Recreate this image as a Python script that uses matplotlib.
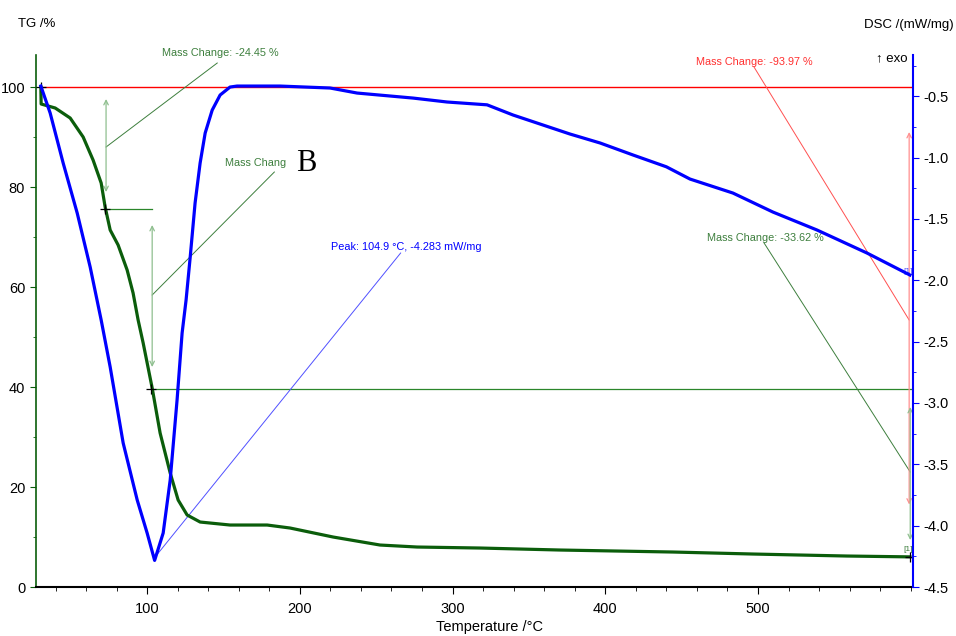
import matplotlib
matplotlib.use("Agg")
import matplotlib.pyplot as plt
from matplotlib.ticker import MultipleLocator

plt.rcParams['font.family'] = ['Liberation Sans', 'DejaVu Sans']

# DSC curve (temperature /°C, mW/mg)
dsc_t = [30.4, 36.5, 45.0, 54.2, 62.7, 69.9, 75.8, 84.3, 93.5, 100.0, 104.9, 110.5,
         115.1, 119.6, 122.9, 125.5, 128.2, 131.4, 134.7, 138.0, 142.6, 147.8, 154.3,
         158.9, 187.1, 219.8, 237.5, 274.2, 296.4, 322.6, 339.6, 376.9, 396.6, 418.2,
         440.0, 455.5, 483.6, 509.8, 538.6, 571.4, 599.5]
dsc_v = [-0.417, -0.637, -1.044, -1.452, -1.892, -2.324, -2.707, -3.326, -3.791, -4.06,
         -4.283, -4.06, -3.628, -2.976, -2.43, -2.161, -1.811, -1.370, -1.044, -0.800,
         -0.613, -0.490, -0.425, -0.417, -0.417, -0.433, -0.474, -0.515, -0.547, -0.570,
         -0.653, -0.808, -0.881, -0.979, -1.075, -1.175, -1.289, -1.444, -1.590, -1.778,
         -1.957]

# TG curve (temperature /°C, %)
tg_t = [30.4, 30.6, 39.8, 49.6, 58.1, 64.6, 69.9, 72.5, 75.8, 81.0, 86.9, 90.8, 94.1,
        97.4, 103.3, 108.5, 115.1, 120.3, 126.2, 134.7, 154.3, 178.6, 193.6, 221.8,
        252.5, 276.8, 318.0, 370.4, 444.4, 496.7, 558.3, 599.5]
tg_v = [100.0, 96.6, 95.8, 93.8, 90.0, 85.4, 80.8, 76.0, 71.4, 68.4, 63.4, 58.8, 53.4,
        48.8, 39.8, 30.8, 22.8, 17.4, 14.4, 13.0, 12.4, 12.4, 11.8, 10.0,
        8.4, 8.0, 7.8, 7.4, 7.0, 6.6, 6.2, 6.03]

step1 = 75.55
step2 = 39.65
final = 6.03

dark_green = '#0b5d0b'
line_green = '#2a862a'
ann_green = '#3d7f3d'
light_green = '#8fbf8f'
light_red = '#ff9090'

fig = plt.figure(figsize=(9.56, 6.36), dpi=100)
ax = fig.add_axes([0.0373, 0.077, 0.9177, 0.8365])
ax2 = ax.twinx()

ax.set_xlim(27, 601.5)
ax.set_ylim(0, 106.4)
ax2.set_ylim(-4.5, -0.164)

ax.plot(tg_t, tg_v, color=dark_green, lw=2.3, zorder=5, solid_joinstyle='round')
ax2.plot(dsc_t, dsc_v, color='#0000ff', lw=2.3, zorder=5, solid_joinstyle='round')

# horizontal reference lines
ax.plot([30.4, 601.5], [100, 100], color='#ff0000', lw=1.0)
ax.plot([103.3, 601.5], [step2, step2], color=line_green, lw=0.9)
ax.plot([72.5, 103.3], [step1, step1], color=line_green, lw=0.9)

# markers
ax.plot([30.4, 72.5, 102.8, 599.5], [100, step1, step2, final], marker='+', ms=7,
        color='black', lw=0, mew=0.9, zorder=6)

def varrow(x, y0, y1, col):
    ax.annotate('', xy=(x, y0), xytext=(x, y1),
                arrowprops=dict(arrowstyle='<->', color=col, lw=0.9,
                                mutation_scale=8, shrinkA=0, shrinkB=0))

varrow(73.1, 97.6, 79.0, light_green)
varrow(103.3, 72.4, 44.0, light_green)
varrow(599.0, 91.0, 16.5, light_red)
varrow(599.7, 36.0, 9.4, light_green)

# leader lines
ax.plot([73.1, 145.9], [88.0, 104.8], color=ann_green, lw=0.7)
ax.plot([103.3, 183.3], [58.4, 83.0], color=ann_green, lw=0.7)
ax.plot([105.2, 266.0], [6.0, 66.8], color='#5050ff', lw=0.7)
ax.plot([497.4, 599.0], [104.0, 53.4], color='#ff5050', lw=0.7)
ax.plot([504.0, 599.7], [68.8, 23.0], color=ann_green, lw=0.7)

fs = 7.8
ax.text(147.9, 106.8, 'Mass Change: -24.45 %', color=ann_green, fontsize=fs,
        ha='center', va='center', clip_on=False)
ax.text(151.0, 84.8, 'Mass Chang', color=ann_green, fontsize=fs, ha='left', va='center')
ax.text(220.7, 68.0, 'Peak: 104.9 °C, -4.283 mW/mg', color='#0000ff', fontsize=fs,
        ha='left', va='center')
ax.text(497.4, 105.0, 'Mass Change: -93.97 %', color='#ff3030', fontsize=fs,
        ha='center', va='center')
ax.text(505.0, 69.8, 'Mass Change: -33.62 %', color=ann_green, fontsize=fs,
        ha='center', va='center')
ax.text(598.0, 63.2, '[1]', color='#5050ff', fontsize=6, ha='center', va='center')
ax.text(598.0, 7.6, '[1]', color=ann_green, fontsize=6, ha='center', va='center')
ax.text(204.0, 84.8, 'B', fontsize=22, family='Liberation Serif', ha='center', va='center')

# axes styling
ax.spines['top'].set_visible(False)
ax2.spines['top'].set_visible(False)
ax.spines['right'].set_visible(False)
ax2.spines['left'].set_visible(False)
ax2.spines['bottom'].set_visible(False)
ax.spines['left'].set_color(dark_green)
ax2.spines['right'].set_color('#0000ff')
ax2.spines['right'].set_linewidth(1.5)
ax.spines['left'].set_linewidth(1.2)
ax.spines['bottom'].set_linewidth(1.5)

ax.set_xticks([100, 200, 300, 400, 500])
ax.xaxis.set_minor_locator(MultipleLocator(20))
ax.yaxis.set_major_locator(MultipleLocator(20))
ax.yaxis.set_minor_locator(MultipleLocator(10))
ax2.yaxis.set_minor_locator(MultipleLocator(0.25))
ax2.set_yticks([-0.5, -1.0, -1.5, -2.0, -2.5, -3.0, -3.5, -4.0, -4.5])
ax2.set_yticklabels(['-0.5', '-1.0', '-1.5', '-2.0', '-2.5', '-3.0', '-3.5', '-4.0', '-4.5'])

ax.tick_params(axis='x', which='both', direction='out', labelsize=10.5, pad=6)
ax.tick_params(axis='x', which='major', length=5)
ax.tick_params(axis='x', which='minor', length=3)
ax.tick_params(axis='y', which='both', direction='out', labelsize=10.5, color=dark_green)
ax.tick_params(axis='y', which='major', length=4)
ax.tick_params(axis='y', which='minor', length=2)
ax2.tick_params(axis='y', which='both', direction='out', labelsize=10.5, color='#0000ff')
ax2.tick_params(axis='y', which='major', length=4)
ax2.tick_params(axis='y', which='minor', length=2)

fig.text(0.019, 0.962, 'TG /%', fontsize=9.5, ha='left', va='center')
fig.text(0.998, 0.960, 'DSC /(mW/mg)', fontsize=9.5, ha='right', va='center')
fig.text(0.933, 0.909, '↑ exo', fontsize=9.5, ha='center', va='center')
fig.text(0.512, 0.014, 'Temperature /°C', fontsize=10.5, ha='center', va='center')

fig.savefig('out.png', dpi=100)
